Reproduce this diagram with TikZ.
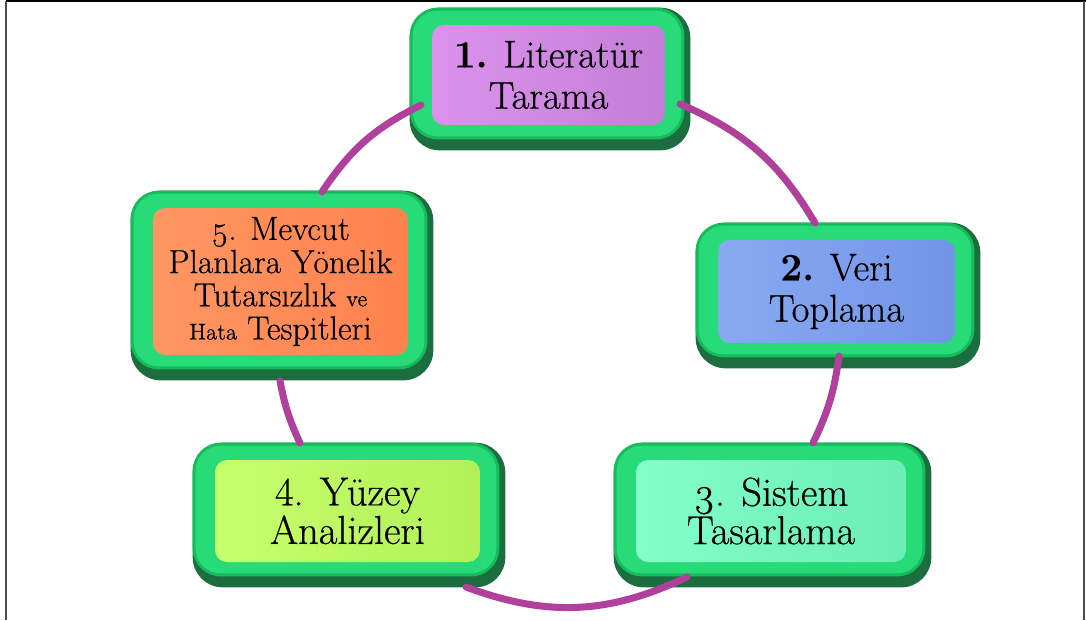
\documentclass[tikz,border=0pt]{standalone}
\usepackage{fontspec}
\setmainfont{Latin Modern Roman}[FakeBold=0.5]
\usetikzlibrary{backgrounds}
\definecolor{gdark}{HTML}{1C6E40}
\definecolor{gedge}{HTML}{15BC5A}
\definecolor{gface}{HTML}{27DC78}
\definecolor{arcc}{HTML}{B0409C}
\definecolor{purA}{HTML}{DC92EC}
\definecolor{purB}{HTML}{C47ED8}
\definecolor{bluA}{HTML}{88AAF3}
\definecolor{bluB}{HTML}{7294E6}
\definecolor{minA}{HTML}{82FFCA}
\definecolor{minB}{HTML}{6CEDB6}
\definecolor{limA}{HTML}{C6FF6C}
\definecolor{limB}{HTML}{B2F058}
\definecolor{orA}{HTML}{FF9662}
\definecolor{orB}{HTML}{FF824E}
\tikzset{
  stepbox/.style={rounded corners=0.24cm, align=center, inner sep=0pt, text=black},
  bigtext/.style={font=\fontsize{22}{23.5}\selectfont},
  midtext/.style={font=\fontsize{23}{20.5}\selectfont},
  smalltext/.style={font=\fontsize{19}{18.9}\selectfont},
  cyclearc/.style={draw=arcc, line width=4pt, line cap=round},
}
\newcommand\gframe[1]{%
  \fill[gdark, rounded corners=0.6cm] ([shift={(-22,17)}]#1.north west) rectangle ([shift={(25,-25)}]#1.south east);
  \fill[gedge, rounded corners=0.56cm] ([shift={(-22,17)}]#1.north west) rectangle ([shift={(19,-14)}]#1.south east);
  \fill[gface, rounded corners=0.5cm] ([shift={(-19,14)}]#1.north west) rectangle ([shift={(16,-11)}]#1.south east);
}
\begin{document}
\begin{tikzpicture}[x=0.02cm, y=0.02cm]
\useasboundingbox (0,0) rectangle (1086,-620);
% frame
\draw[gray!60!black, line width=1.2pt] (6,-620) -- (6,-1);
\draw[black, line width=0.8pt] (6,-1) -- (1086,-1);
\draw[gray!60!black, line width=1.2pt] (1084,-1) -- (1084,-620);

% nodes
\node[stepbox, bigtext, left color=purA, right color=purB, minimum width=4.66cm, minimum height=2.0cm] (n1) at (548.5,-75) {\textbf{1.} Literatür\\Tarama};
\node[stepbox, bigtext, left color=bluA, right color=bluB, minimum width=4.74cm, minimum height=2.06cm] (n2) at (836.5,-291.5) {\textbf{2.} Veri\\Toplama};
\node[stepbox, midtext, left color=minA, right color=minB, minimum width=5.4cm, minimum height=2.04cm] (n3) at (771,-511) {\oldstylenums{3}. Sistem\\Tasarlama};
\node[stepbox, midtext, left color=limA, right color=limB, minimum width=5.3cm, minimum height=2.04cm] (n4) at (347.5,-511) {4. Yüzey\\Analizleri};
\node[stepbox, smalltext, left color=orA, right color=orB, minimum width=5.1cm, minimum height=2.94cm] (n5) at (280.5,-281.5) {\oldstylenums{5}. Mevcut\\Planlara Yönelik\\Tutarsızlık {\fontsize{13}{14}\selectfont ve}\\{\fontsize{13}{14}\selectfont Hata} Tespitleri};

\begin{scope}[on background layer]
  \gframe{n1}
  \gframe{n2}
  \gframe{n3}
  \gframe{n4}
  \gframe{n5}
\end{scope}

% connector ends
\coordinate (a12s) at (680,-104);
\coordinate (a12e) at (815,-223);
\coordinate (a23s) at (839,-356);
\coordinate (a23e) at (813,-443);
\coordinate (a34s) at (687,-577);
\coordinate (a34e) at (466,-587);
\coordinate (a45s) at (300,-443);
\coordinate (a45e) at (280,-381);
\coordinate (a51s) at (322,-192);
\coordinate (a51e) at (421,-105);

\draw[cyclearc] (a12s) to[bend left=18] (a12e);
\draw[cyclearc] (a23s) to[bend left=9] (a23e);
\draw[cyclearc] (a34s) to[bend left=23] (a34e);
\draw[cyclearc] (a45s) to[bend left=7] (a45e);
\draw[cyclearc] (a51s) to[bend left=15] (a51e);
\end{tikzpicture}
\end{document}
